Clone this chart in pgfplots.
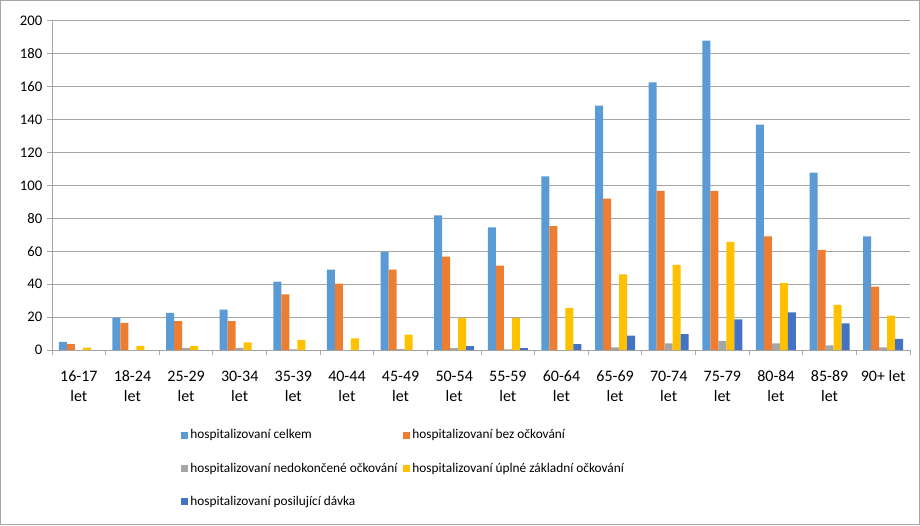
\documentclass[border=0pt]{standalone}
\usepackage{fontspec}
\setmainfont{Carlito}
\usepackage{pgfplots}
\usepackage{pgfplotstable}
\pgfplotsset{compat=1.18}
\definecolor{cA}{HTML}{5B9BD5}
\definecolor{cB}{HTML}{ED7D31}
\definecolor{cC}{HTML}{A5A5A5}
\definecolor{cD}{HTML}{FFC000}
\definecolor{cE}{HTML}{4472C4}
\definecolor{gridc}{HTML}{A6A6A6}
\pgfplotstableread{
x c b n u p
0 5 3.5 0 1.5 0
1 19.5 16.5 0 2.5 0
2 22.5 17.5 1.3 2.5 0
3 24.5 17.5 1.3 4.6 0
4 41.5 33.8 0.4 6 0
5 48.8 40.3 0 7 0
6 59.5 48.8 0.5 9.3 0
7 81.8 56.7 1.2 19.6 2.4
8 74.5 51.3 0.4 19.6 1.2
9 105.5 75.3 0 25.6 3.6
10 148.5 92 1.6 46 8.7
11 162.7 96.7 4 51.7 9.7
12 188 96.7 5.5 65.8 18.6
13 137 69 4 40.7 22.9
14 107.8 60.8 2.8 27.5 16.2
15 69 38.5 1.6 20.9 6.7
}\data
\begin{document}
\begin{tikzpicture}
\begin{axis}[
  at={(39pt,131.25pt)}, anchor=south west,
  scale only axis, width=643.5pt, height=246.75pt,
  ybar=0pt, bar width=0.149,
  xmin=-0.5, xmax=15.5, ymin=0, ymax=200,
  separate axis lines,
  axis x line*=bottom, axis y line*=left,
  x axis line style={-, draw=gridc},
  y axis line style={-, draw=gridc},
  ytick={0,20,...,200},
  ymajorgrids, grid style={gridc, line width=0.75pt},
  major grid style={gridc, line width=0.75pt},
  tick align=outside,
  major tick length=3.75pt,
  tick style={gridc, line width=0.75pt},
  xtick={-0.5,0.5,...,15.5}, xticklabels={},
  extra x ticks={0,...,15},
  extra x tick style={major tick length=0pt, xticklabel style={align=center, font=\fontsize{12}{15}\selectfont, yshift=-12pt}},
  extra x tick labels={{16-17\\let},{18-24\\let},{25-29\\let},{30-34\\let},{35-39\\let},{40-44\\let},{45-49\\let},{50-54\\let},{55-59\\let},{60-64\\let},{65-69\\let},{70-74\\let},{75-79\\let},{80-84\\let},{85-89\\let},{90+ let}},
  yticklabel style={font=\fontsize{11}{13}\selectfont},
  /pgf/number format/assume math mode=true,
  legend columns=2,
  legend cell align=left,
  legend style={at={(0.145,-0.225)}, anchor=north west, draw=none, font=\fontsize{10}{12}\selectfont,
    row sep=12.5pt, /tikz/every even column/.append style={column sep=2pt}},
  legend image code/.code={\fill[#1] (0pt,-2.6pt) rectangle (5.2pt,2.6pt);},
]
\addplot[fill=cA, draw=none] table[x=x,y=c]{\data};
\addplot[fill=cB, draw=none] table[x=x,y=b]{\data};
\addplot[fill=cC, draw=none] table[x=x,y=n]{\data};
\addplot[fill=cD, draw=none] table[x=x,y=u]{\data};
\addplot[fill=cE, draw=none] table[x=x,y=p]{\data};
\legend{hospitalizovaní celkem, hospitalizovaní bez očkování, hospitalizovaní nedokončené očkování, hospitalizovaní úplné základní očkování, hospitalizovaní posilující dávka}
\end{axis}
\draw[gridc, line width=0.75pt] (0.4pt,0.4pt) rectangle (689.6pt,393.35pt);
\pgfresetboundingbox
\path[use as bounding box] (0,0) rectangle (690pt,393.75pt);
\end{tikzpicture}
\end{document}
